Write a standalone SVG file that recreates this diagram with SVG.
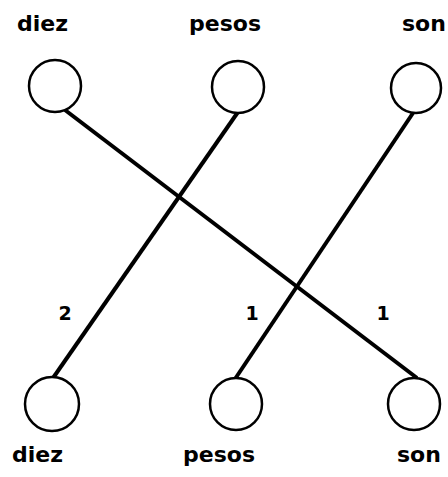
<svg xmlns="http://www.w3.org/2000/svg" width="448" height="477" viewBox="0 0 448 477">
<style>
.lbl{font-family:"DejaVu Sans",Verdana,sans-serif;font-weight:bold;font-size:22px;fill:#000}
.num{font-family:"DejaVu Sans",Verdana,sans-serif;font-weight:bold;font-size:19px;fill:#000}
.node circle{fill:#fff;stroke:#000;stroke-width:2.5}
.edge{stroke:#000;stroke-width:4;fill:none;stroke-linecap:butt}
</style>
<rect width="448" height="477" fill="#fff"/>
<g id="connectors">
<line class="edge" x1="65" y1="110" x2="417" y2="378"/>
<line class="edge" x1="238" y1="112" x2="53" y2="378"/>
<line class="edge" x1="413" y1="113" x2="235" y2="379"/>
<text class="num" x="65" y="320" text-anchor="middle">2</text>
<text class="num" x="252" y="320" text-anchor="middle">1</text>
<text class="num" x="383" y="320" text-anchor="middle">1</text>
</g>
<g id="top-diez" class="node"><circle cx="55" cy="86" r="26"/><text class="lbl" x="17" y="31">diez</text></g>
<g id="top-pesos" class="node"><circle cx="238" cy="87" r="26"/><text class="lbl" x="189" y="31">pesos</text></g>
<g id="top-son" class="node"><circle cx="416" cy="88" r="25"/><text class="lbl" x="402" y="31">son</text></g>
<g id="bottom-diez" class="node"><circle cx="52" cy="404" r="27"/><text class="lbl" x="12" y="462">diez</text></g>
<g id="bottom-pesos" class="node"><circle cx="236" cy="404" r="26"/><text class="lbl" x="183" y="462">pesos</text></g>
<g id="bottom-son" class="node"><circle cx="414" cy="404" r="26"/><text class="lbl" x="397" y="462">son</text></g>
</svg>
